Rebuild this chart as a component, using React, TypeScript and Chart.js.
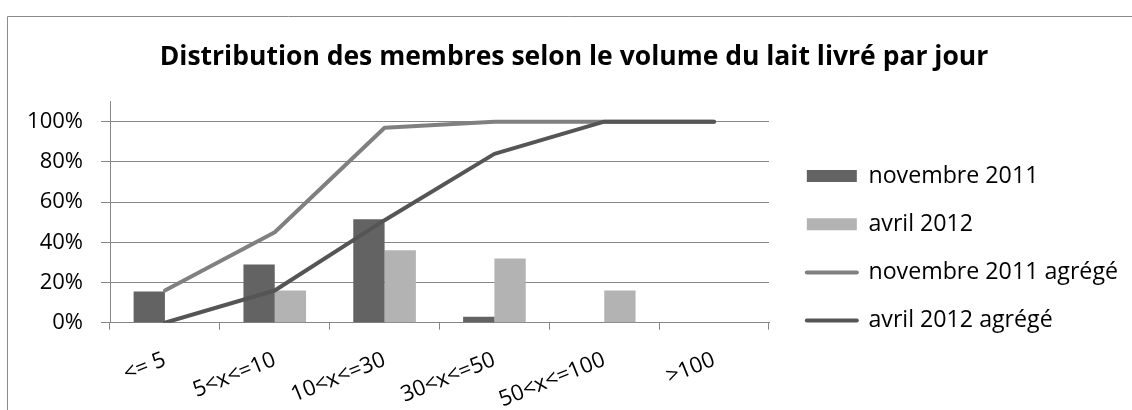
import { useEffect, useRef } from "react";
import { Chart, registerables } from "chart.js";

Chart.register(...registerables);

const titleText = "Distribution des membres selon le volume du lait livré par jour";
const categories = ["<= 5", "5<x<=10", "10<x<=30", "30<x<=50", "50<x<=100", ">100"];
const nov2011 = [15.5, 29, 51.5, 3, 0, 0];
const avr2012 = [0, 16, 36, 32, 16, 0];
const nov2011Cum = [16, 45, 97, 100, 100, 100];
const avr2012Cum = [0, 16, 51, 84, 100, 100];
const seriesLabels = ["novembre 2011", "avril 2012", "novembre 2011 agrégé", "avril 2012 agrégé"];
const yMax = 110;
const yStep = 20;

const FONT = "'Open Sans', sans-serif";
const GRID = "#868686";

const framePlugin = {
  id: "frame",
  beforeDraw(chart: any) {
    const ctx = chart.ctx;
    ctx.save();
    ctx.fillStyle = "#ffffff";
    ctx.fillRect(0, 0, chart.width, chart.height);
    ctx.strokeStyle = "#8a8a8a";
    ctx.lineWidth = 1;
    ctx.beginPath();
    ctx.moveTo(7.5, chart.height);
    ctx.lineTo(7.5, 16.5);
    ctx.lineTo(chart.width, 16.5);
    ctx.stroke();
    ctx.restore();
  },
};

export default function App() {
  const ref = useRef<HTMLCanvasElement | null>(null);

  useEffect(() => {
    document.body.style.margin = "0";
    const canvas = ref.current;
    if (!canvas) return;
    const chart = new Chart(canvas, {
      type: "bar",
      data: {
        labels: categories,
        datasets: [
          {
            type: "bar",
            label: seriesLabels[0],
            data: nov2011,
            backgroundColor: "#636363",
            borderWidth: 0,
            order: 3,
            categoryPercentage: 0.57,
            barPercentage: 1,
          },
          {
            type: "bar",
            label: seriesLabels[1],
            data: avr2012,
            backgroundColor: "#b3b3b3",
            borderWidth: 0,
            order: 3,
            categoryPercentage: 0.57,
            barPercentage: 1,
          },
          {
            type: "line",
            label: seriesLabels[2],
            data: nov2011Cum,
            borderColor: "#808080",
            backgroundColor: "#808080",
            borderWidth: 4,
            pointRadius: 0,
            tension: 0,
            borderCapStyle: "round",
            borderJoinStyle: "round",
            order: 2,
          },
          {
            type: "line",
            label: seriesLabels[3],
            data: avr2012Cum,
            borderColor: "#555555",
            backgroundColor: "#555555",
            borderWidth: 4,
            pointRadius: 0,
            tension: 0,
            borderCapStyle: "round",
            borderJoinStyle: "round",
            order: 1,
          },
        ] as any,
      },
      options: {
        animation: false,
        responsive: false,
        maintainAspectRatio: false,
        layout: { padding: { left: 20, right: 4, top: 0, bottom: 0 } },
        scales: {
          x: {
            grid: {
              display: true,
              drawOnChartArea: false,
              drawTicks: true,
              tickLength: 7,
              color: GRID,
              offset: true,
            },
            border: { display: true, color: GRID },
            ticks: {
              font: { family: FONT, size: 22 },
              color: "#000",
              minRotation: 22,
              maxRotation: 22,
              padding: 17,
              autoSkip: false,
            },
            afterFit: (s: any) => {
              s.height = 87.3;
            },
          },
          y: {
            min: 0,
            max: yMax,
            ticks: {
              stepSize: yStep,
              includeBounds: false,
              callback: (v: any) => v + "%",
              font: { family: FONT, size: 22 },
              color: "#000",
              padding: 18,
            },
            grid: { color: GRID, tickLength: 9 },
            border: { display: true, color: GRID },
            afterFit: (s: any) => {
              s.width = 90;
            },
          },
          y2: {
            position: "right",
            display: true,
            grid: { display: false },
            border: { display: false },
            ticks: { display: false },
            afterFit: (s: any) => {
              const lw = s.chart.legend ? s.chart.legend.width : 348;
              s.width = Math.max(0, 1128 - 769 - lw);
            },
          },
        },
        plugins: {
          tooltip: { enabled: false },
          title: {
            display: true,
            text: titleText,
            color: "#000",
            font: { family: FONT, size: 26.5, weight: "bold", lineHeight: 1.2 },
            padding: { top: 41.1, bottom: 28.7 },
          },
          legend: {
            position: "right",
            align: "start",
            maxWidth: 360,
            title: {
              display: true,
              text: "",
              font: { family: FONT, size: 10, lineHeight: 1 },
              padding: { top: 129.4, bottom: 0 },
            },
            labels: {
              usePointStyle: true,
              pointStyleWidth: 50,
              boxHeight: 12,
              padding: 25,
              color: "#000",
              font: { family: FONT, size: 23.2 },
              generateLabels: (chart: any) =>
                chart.data.datasets.map((ds: any, i: number) => {
                  const isLine = ds.type === "line";
                  return {
                    text: ds.label,
                    datasetIndex: i,
                    hidden: false,
                    fillStyle: isLine ? ds.borderColor : ds.backgroundColor,
                    strokeStyle: isLine ? ds.borderColor : ds.backgroundColor,
                    lineWidth: isLine ? 4 : 0,
                    lineCap: "round",
                    pointStyle: isLine ? "line" : "rect",
                    fontColor: "#000",
                  };
                }),
            },
          },
        },
      },
      plugins: [framePlugin],
    });
    return () => chart.destroy();
  }, []);

  return (
    <div style={{ width: 1132, height: 410 }}>
      <canvas ref={ref} width={1132} height={410} style={{ display: "block" }} />
    </div>
  );
}
